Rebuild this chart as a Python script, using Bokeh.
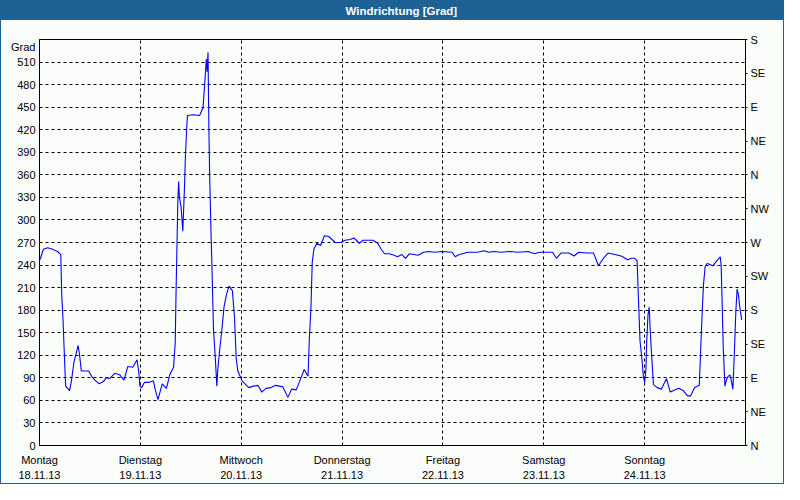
from bokeh.plotting import figure
from bokeh.models import Range1d, LinearAxis, FixedTicker, Title
from bokeh.embed import file_html
from bokeh.resources import INLINE

# ---------------- data ----------------
title_text = "Windrichtung [Grad]"
y_unit_label = "Grad"

day_ticks = [0, 24, 48, 72, 96, 120, 144]
day_labels = ["Montag\n18.11.13", "Dienstag\n19.11.13", "Mittwoch\n20.11.13",
              "Donnerstag\n21.11.13", "Freitag\n22.11.13", "Samstag\n23.11.13",
              "Sonntag\n24.11.13"]

deg_ticks = list(range(0, 541, 30))
compass_ticks = list(range(0, 541, 45))
compass_labels = ["N", "NE", "E", "SE", "S", "SW", "W", "NW", "N", "NE", "E", "SE", "S"]

# hours since Montag 00:00
hours = [0, 0.23, 0.93, 1.94, 3.1, 4.3, 5.06, 5.29, 5.6, 5.83, 6.22, 7.16, 7.6, 8.2, 8.7,
         9.2, 9.5, 9.96, 11.7, 12.4, 13.2, 14.2, 15.2, 15.9, 16.7, 17.9, 19.1, 20.1, 21.0,
         22.2, 23.2, 23.6, 23.9,
         24.3, 25.0, 26.1, 27.1, 27.6, 28.2, 29.2, 30.2, 31.0, 31.9, 32.3, 32.5, 32.7, 32.9,
         33.1, 33.3, 33.7, 34.1, 34.5, 34.7, 35.0, 35.2, 36.6, 38.1, 38.9, 39.3, 39.7, 39.9,
         40.1, 40.3, 40.5, 40.8, 41.1, 41.4, 41.8, 42.2, 42.4, 42.9, 43.4, 43.9, 44.5, 45.1,
         45.9, 46.4, 46.8, 47.2,
         48.2, 49.8, 50.9, 52.0, 52.9, 53.9, 55.1, 56.2, 57.9, 59.1, 60.0, 61.1, 61.8, 63.0,
         63.9, 64.2, 64.6, 64.9, 65.3, 66.0, 66.9, 67.8, 68.8, 70.4, 71.7,
         72.7, 73.9, 74.8, 75.4, 76.1, 77.0, 79.3, 80.5, 81.3, 82.1, 83.2, 84.4, 85.2, 86.2,
         87.1, 88.0, 89.1, 90.1, 91.4, 92.6, 94.1, 95.7,
         98.2, 98.9, 99.9, 101.9, 104.2, 105.8, 106.9, 108.1, 109.7, 112.0, 113.9, 116.3,
         117.8, 119.0, 122.1, 123.0, 124.1, 126.0, 127.2, 128.3, 130.3, 131.8, 132.2, 133.0,
         134.2, 135.3, 136.9, 138.4, 140.0, 140.8, 141.6, 142.2,
         142.5, 142.9, 143.3, 143.7, 144.0, 144.3, 144.5, 144.8, 145.1, 145.3, 145.6, 146.1,
         147.0, 148.0, 149.2, 150.1, 150.9, 152.1, 153.2, 154.2, 154.9, 155.9, 157.0, 157.3,
         157.7, 158.0, 158.4, 158.9, 159.4, 160.2, 161.2, 162.0, 162.2, 162.4, 162.7, 163.1,
         163.5, 163.9, 164.3, 164.7, 165.0, 165.4, 165.7, 166.0, 166.3, 166.6, 167.1]

direction = [246, 249, 261, 263, 261, 258, 254, 201, 167, 133, 79, 73, 86, 111, 122,
             133, 122, 99, 99, 92, 87, 82, 85, 90, 89, 96, 94, 87, 105,
             104, 114, 99, 79,
             77, 84, 84, 86, 73, 61, 82, 76, 94, 104, 137, 206, 261, 321,
             351, 330, 317, 285, 343, 381, 420, 439, 440, 439, 449, 480, 514, 497,
             523, 424, 356, 287, 223, 154, 120, 79, 99, 129, 154, 184, 201, 212,
             206, 171, 116, 99,
             86, 77, 79, 80, 71, 76, 77, 80, 78, 64, 75, 74, 84, 101,
             92, 141, 184, 244, 261, 269, 266, 279, 278, 270, 270,
             273, 274, 276, 273, 269, 273, 273, 269, 261, 255, 255, 253, 251, 254,
             249, 255, 254, 253, 257, 258, 257, 258,
             257, 251, 254, 257, 257, 259, 257, 258, 257, 258, 257, 258,
             255, 257, 257, 249, 256, 256, 252, 257, 256, 256, 251, 239,
             249, 256, 254, 252, 247, 249, 249, 246,
             199, 139, 118, 92, 84, 101, 139, 174, 184, 156, 126, 81,
             77, 75, 89, 71, 73, 76, 73, 66, 66, 77, 80, 122,
             178, 214, 238, 242, 241, 239, 246, 251, 240, 199, 131, 79,
             88, 92, 94, 84, 75, 131, 178, 208, 201, 186, 167]

# ---------------- styling ----------------
W, H = 784, 484
FONT = "Liberation Sans"
BG = "#fbfdfb"
FRAME_BLUE = "#1e6194"

p = figure(width=W, height=H, output_backend="svg", toolbar_location=None,
           x_range=Range1d(0, 168), y_range=Range1d(0, 540),
           min_border_left=39, min_border_right=39, min_border_top=39, min_border_bottom=39,
           background_fill_color=BG, border_fill_color=None,
           outline_line_color="black", outline_line_width=1,
           title=None,
           styles={"background": f"linear-gradient(to bottom, {FRAME_BLUE} 0px, {FRAME_BLUE} 20px, {BG} 20px, {BG} 100%)",
                   "box-shadow": f"inset 0 0 0 1px {FRAME_BLUE}"})

# spacer between frame and title bar (closest to the frame)
p.add_layout(Title(text="\u00a0", standoff=7, text_font=FONT, text_font_size="11px",
                   text_color=BG), "above")
# the title inside the blue bar (outermost)
p.add_layout(Title(text=title_text, align="left", offset=306, vertical_align="middle",
                   standoff=1, text_color="white", text_font=FONT,
                   text_font_style="bold", text_font_size="11.5px"), "above")

p.line(hours, direction, line_color="#0000ff", line_width=1.1)

# bottom axis
xa = p.xaxis[0]
xa.ticker = FixedTicker(ticks=day_ticks)
xa.major_label_overrides = dict(zip(day_ticks, day_labels))
xa.major_tick_out = 0
xa.major_tick_in = 0
xa.minor_tick_line_color = None
xa.axis_line_color = "black"
xa.major_label_standoff = 8
xa.major_label_text_font = FONT
xa.major_label_text_font_size = "11px"
xa.major_label_text_color = "black"
xa.major_label_text_line_height = 1.3

# left axis (top tick carries the unit label, pushed one line down)
ya = p.yaxis[0]
ya.ticker = FixedTicker(ticks=deg_ticks)
ya.major_label_overrides = {540: "\u00a0\n" + y_unit_label}
ya.major_tick_out = 0
ya.major_tick_in = 0
ya.minor_tick_line_color = None
ya.axis_line_color = "black"
ya.major_label_standoff = 4
ya.major_label_text_font = FONT
ya.major_label_text_font_size = "11px"
ya.major_label_text_color = "black"

# right axis (compass)
ra = LinearAxis(ticker=FixedTicker(ticks=compass_ticks),
                major_label_overrides=dict(zip(compass_ticks, compass_labels)))
ra.major_tick_out = 2
ra.major_tick_in = 0
ra.minor_tick_line_color = None
ra.axis_line_color = "black"
ra.major_tick_line_color = "black"
ra.major_label_standoff = 3
ra.major_label_text_font = FONT
ra.major_label_text_font_size = "11px"
ra.major_label_text_color = "black"
p.add_layout(ra, "right")

# grids (only up to 510 on y)
p.xgrid.grid_line_color = "black"
p.xgrid.grid_line_dash = "3 3"
p.ygrid.ticker = FixedTicker(ticks=list(range(0, 511, 30)))
p.ygrid.grid_line_color = "black"
p.ygrid.grid_line_dash = "3 3"

open("out.html", "w").write(file_html(p, INLINE))
